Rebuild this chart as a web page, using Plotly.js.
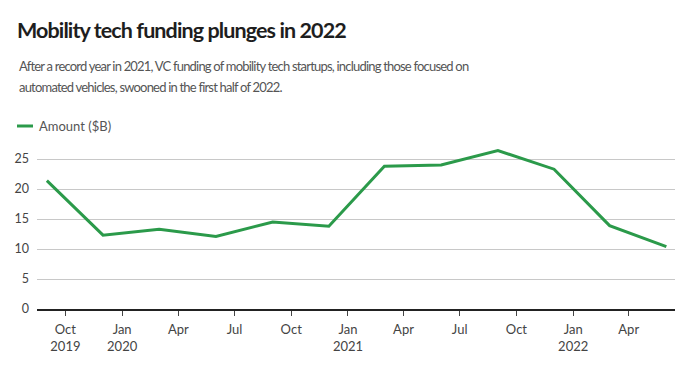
<!DOCTYPE html>
<html><head><meta charset="utf-8">
<script src="https://cdn.plot.ly/plotly-3.0.1.min.js"></script>
<style>
body{margin:0;background:#fff}#c{width:690px;height:376px}
.gtitle{letter-spacing:-0.9px}
.annotation-text.sub{letter-spacing:-0.8px}
</style>
</head><body><div id="c"></div>
<script>
const dates = ["2019-09-01","2019-12-01","2020-03-01","2020-06-01","2020-09-01","2020-12-01","2021-03-01","2021-06-01","2021-09-01","2021-12-01","2022-03-01","2022-06-01"];
const amounts = [21.4, 12.3, 13.3, 12.1, 14.5, 13.8, 23.8, 24.0, 26.4, 23.3, 13.9, 10.4];
const tickDates = ["2019-10-01","2020-01-01","2020-04-01","2020-07-01","2020-10-01","2021-01-01","2021-04-01","2021-07-01","2021-10-01","2022-01-01","2022-04-01"];
const tickLabels = ["Oct<br>2019","Jan<br>2020","Apr","Jul","Oct","Jan<br>2021","Apr","Jul","Oct","Jan<br>2022","Apr"];
const yTicks = [0,5,10,15,20,25];
const seriesName = "Amount ($B)";
const titleText = "Mobility tech funding plunges in 2022";
const subLines = ["After a record year in 2021, VC funding of mobility tech startups, including those focused on",
                  "automated vehicles, swooned in the first half of 2022."];
const FONT = "Lato, sans-serif";
const GREEN = "#2b9a4a";

// plot area: x 37..675, y 147..309
const PW = 638, PH = 162;
const px = (x) => (x - 37) / PW;
const py = (y) => (309 - y) / PH;

const trace = {x: dates, y: amounts, type: "scatter", mode: "lines", name: seriesName,
  line: {color: GREEN, width: 3}, hoverinfo: "skip", showlegend: false};

const annotations = [
  {text: seriesName, xref: "paper", yref: "paper", x: px(37), y: py(126), xanchor: "left", yanchor: "middle",
   showarrow: false, font: {family: FONT, size: 13, color: "#555"}},
];
subLines.forEach((t, i) => annotations.push({
  text: t, xref: "paper", yref: "paper", x: px(17) , y: py(66 + i * 21), xanchor: "left", yanchor: "middle",
  showarrow: false, align: "left", font: {family: FONT, size: 13, color: "#555"}
}));

const layout = {
  width: 690, height: 376,
  margin: {l: 37, r: 15, t: 147, b: 67},
  paper_bgcolor: "#fff", plot_bgcolor: "#fff",
  font: {family: FONT, color: "#444", size: 13},
  showlegend: false,
  title: {text: "<b>" + titleText + "</b>", xref: "container", yref: "container",
    x: 17/690, xanchor: "left", y: 1 - 30/376, yanchor: "middle",
    font: {family: FONT, size: 21.5, color: "#1e1e1e"}},
  xaxis: {type: "date", range: ["2019-08-16","2022-06-15"], tickvals: tickDates, ticktext: tickLabels,
    showgrid: false, zeroline: false, showline: true, linecolor: "#222", linewidth: 1.5,
    ticks: "outside", ticklen: 5, tickcolor: "#444", tickwidth: 1, ticklabelstandoff: 3,
    tickfont: {size: 13, color: "#444"}, fixedrange: true},
  yaxis: {range: [0, 27], tickvals: yTicks, showgrid: true, gridcolor: "#c8c8c8", gridwidth: 1,
    zeroline: false, showline: false, ticks: "", ticklabelstandoff: 7,
    tickfont: {size: 12.5, color: "#444"}, fixedrange: true},
  shapes: [{type: "line", xref: "paper", yref: "paper", x0: px(17), x1: px(33), y0: py(126), y1: py(126),
    line: {color: GREEN, width: 3}}],
  annotations: annotations
};
Plotly.newPlot("c", [trace], layout, {displayModeBar: false, staticPlot: true}).then(() => {
  document.querySelectorAll(".annotation-text").forEach((el, i) => { if (i > 0) el.classList.add("sub"); });
});
</script></body></html>
